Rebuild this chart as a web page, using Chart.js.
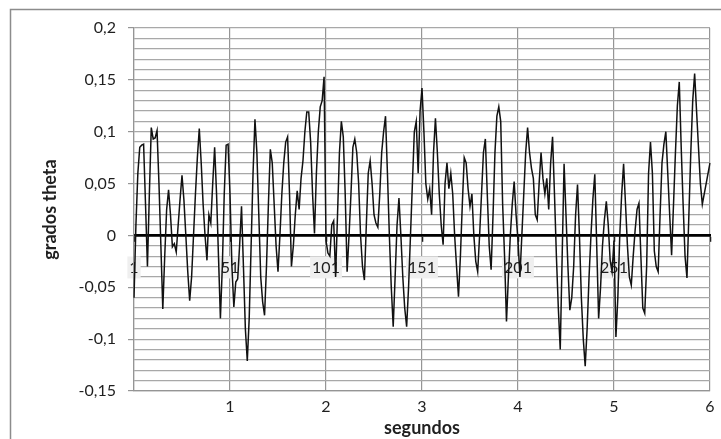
<!DOCTYPE html>
<html>
<head>
<meta charset="utf-8">
<script src="https://cdn.jsdelivr.net/npm/chart.js@4.4.0/dist/chart.umd.min.js"></script>
<style>
  html, body { margin: 0; padding: 0; background: #fff; }
  #wrap { position: relative; width: 721px; height: 439px; }
</style>
</head>
<body>
<div id="wrap"><canvas id="thetaChart" width="721" height="439"></canvas></div>
<script>
// muestras (1..301), una cada 0,02 s
const muestras = Array.from({ length: 301 }, (_, i) => i + 1);
const segundosTicks = [1, 2, 3, 4, 5, 6];

// grados theta
const theta = [
  -0.06, 0.01, 0.06, 0.085, 0.087, 0.088, 0.03, -0.03, 0.04, 0.104,
  0.093, 0.094, 0.101, 0.05, -0.01, -0.071, -0.02, 0.025, 0.044, 0.02,
  -0.011, -0.008, -0.016, 0.01, 0.035, 0.058, 0.034, 0.0, -0.035, -0.063,
  -0.04, 0.0, 0.04, 0.075, 0.103, 0.07, 0.03, 0.0, -0.024, 0.02,
  0.012, 0.05, 0.085, 0.04, -0.02, -0.08, -0.03, 0.04, 0.087, 0.088,
  0.04, -0.03, -0.069, -0.045, -0.042, -0.01, 0.028, -0.03, -0.09, -0.121,
  -0.08, -0.01, 0.06, 0.112, 0.08, 0.02, -0.04, -0.064, -0.077, -0.03,
  0.03, 0.083, 0.07, 0.03, -0.01, -0.035, 0.0, 0.04, 0.07, 0.09,
  0.095, 0.04, -0.03, -0.01, 0.02, 0.043, 0.025, 0.055, 0.072, 0.1,
  0.119, 0.119, 0.09, 0.04, 0.002, 0.06, 0.1, 0.124, 0.13, 0.153,
  -0.005, -0.017, -0.02, 0.01, 0.014, -0.04, 0.02, 0.08, 0.11, 0.095,
  0.04, -0.035, 0.0, 0.04, 0.085, 0.093, 0.08, 0.05, 0.0, -0.03,
  -0.043, 0.01, 0.06, 0.072, 0.05, 0.02, 0.012, 0.008, 0.04, 0.08,
  0.1, 0.115, 0.06, 0.0, -0.05, -0.088, -0.04, 0.01, 0.036, 0.0,
  -0.04, -0.07, -0.088, -0.05, 0.0, 0.05, 0.1, 0.11, 0.06, 0.12,
  0.142, 0.1, 0.05, 0.035, 0.045, 0.02, 0.08, 0.113, 0.08, 0.04,
  0.01, -0.009, 0.05, 0.07, 0.045, 0.06, 0.04, 0.0, -0.03, -0.059,
  -0.02, 0.03, 0.075, 0.07, 0.045, 0.028, 0.04, 0.0, -0.025, -0.035,
  0.0, 0.04, 0.08, 0.093, 0.04, -0.01, -0.033, 0.02, 0.08, 0.115,
  0.124, 0.11, 0.03, -0.02, -0.083, -0.04, 0.0, 0.03, 0.052, 0.02,
  -0.005, -0.04, 0.0, 0.04, 0.08, 0.104, 0.08, 0.065, 0.055, 0.02,
  0.015, 0.05, 0.08, 0.055, 0.04, 0.055, 0.025, 0.07, 0.095, 0.04,
  -0.02, -0.07, -0.11, -0.02, 0.069, 0.02, -0.03, -0.072, -0.06, -0.03,
  0.02, 0.049, 0.0, -0.06, -0.1, -0.126, -0.09, -0.04, 0.0, 0.035,
  0.059, -0.01, -0.08, -0.05, -0.01, 0.015, 0.033, 0.01, -0.024, -0.035,
  -0.005, -0.098, -0.06, 0.0, 0.04, 0.069, 0.03, -0.01, -0.04, -0.048,
  -0.02, 0.005, 0.025, 0.031, -0.02, -0.07, -0.075, -0.03, 0.06, 0.09,
  0.06, -0.015, -0.03, -0.035, 0.02, 0.07, 0.088, 0.1, 0.06, 0.02,
  -0.019, 0.03, 0.08, 0.125, 0.148, 0.085, 0.03, -0.02, -0.041, 0.02,
  0.08, 0.13, 0.156, 0.12, 0.085, 0.05, 0.03, 0.04, 0.05, 0.06, 0.07
];

Chart.defaults.font.family = 'Lato, "Open Sans", sans-serif';
Chart.defaults.color = '#1f1f1f';

const textoEje = { size: 16 };
const sinColor = 'rgba(0,0,0,0)';

// marco exterior del grafico
const marco = {
  id: 'marco',
  beforeDraw(chart) {
    const c = chart.ctx;
    c.save();
    c.fillStyle = '#fff';
    c.fillRect(0, 0, chart.width, chart.height);
    c.strokeStyle = '#8c8c8c';
    c.lineWidth = 1.5;
    c.strokeRect(10.5, 9.5, chart.width + 20, chart.height + 20);
    c.restore();
  }
};

const ctx = document.getElementById('thetaChart').getContext('2d');

new Chart(ctx, {
  type: 'line',
  data: {
    labels: muestras,
    datasets: [{
      data: theta,
      borderColor: '#111',
      borderWidth: 1.5,
      pointRadius: 0,
      tension: 0,
      fill: false
    }]
  },
  options: {
    responsive: false,
    animation: false,
    layout: { padding: { top: 28, right: 0, bottom: 0, left: 0 } },
    plugins: {
      legend: { display: false },
      tooltip: { enabled: false }
    },
    scales: {
      x: {
        type: 'category',
        position: { y: 0 },
        z: 1,
        offset: false,
        grid: {
          display: true,
          drawOnChartArea: false,
          drawTicks: true,
          tickLength: 5,
          tickWidth: 1.5,
          tickColor: c => (c.index % 50 === 0 ? '#000' : sinColor)
        },
        border: { display: true, color: '#000', width: 2.8 },
        ticks: {
          autoSkip: false,
          maxRotation: 0,
          minRotation: 0,
          padding: 11,
          // tall line box pushes the labels down below the zero line
          font: { size: 16, lineHeight: 2 },
          showLabelBackdrop: true,
          backdropPadding: { top: -5, bottom: -5, left: 2, right: 2 },
          backdropColor: c => (c.index % 50 === 0 && c.index < 300 ? '#efefef' : sinColor),
          callback: function (value, index) {
            return (index % 50 === 0 && index < 300) ? String(this.getLabelForValue(value)) : '';
          }
        }
      },
      x2: {
        type: 'linear',
        position: 'bottom',
        min: 0,
        max: 6,
        afterFit: s => { s.height = 48; },
        grid: { color: '#959595', lineWidth: 1.2, drawTicks: false },
        border: { color: '#959595', width: 1.2 },
        ticks: {
          stepSize: 1,
          padding: 6,
          font: textoEje,
          callback: v => (segundosTicks.includes(v) ? String(v) : '')
        },
        title: {
          display: true,
          text: 'segundos',
          font: { size: 18, weight: 'bold' },
          padding: { top: 0, bottom: 0 }
        }
      },
      y: {
        min: -0.15,
        max: 0.2,
        position: 'left',
        afterFit: s => { s.width = 134; },
        grid: {
          color: '#a8a8a8',
          lineWidth: 1.2,
          tickLength: 6,
          tickColor: c => (Math.round(c.tick.value * 100) % 5 === 0 ? '#959595' : sinColor)
        },
        border: { color: '#959595', width: 1.2 },
        ticks: {
          stepSize: 0.01,
          autoSkip: false,
          padding: 12,
          font: textoEje,
          callback: v => {
            const c = Math.round(v * 100);
            return c % 5 === 0 ? String(c / 100).replace('.', ',') : '';
          }
        },
        title: {
          display: true,
          text: 'grados theta',
          font: { size: 18, weight: 'bold' },
          padding: { top: 39, bottom: 0 }
        }
      }
    }
  },
  plugins: [marco]
});
</script>
</body>
</html>
